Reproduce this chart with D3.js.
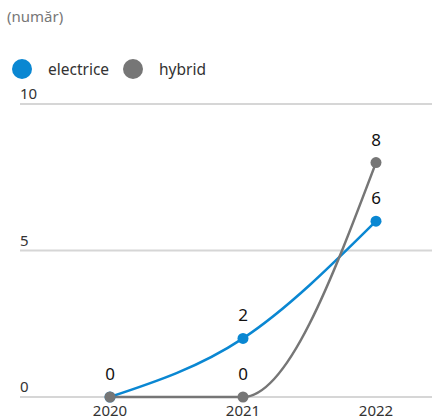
<!DOCTYPE html>
<html><head><meta charset="utf-8">
<script src="https://cdn.jsdelivr.net/npm/d3@7"></script>
<style>
body{margin:0;background:#fff;}
text{font-family:"Noto Sans","Open Sans",sans-serif;}
</style></head>
<body><svg id="c" width="432" height="419"></svg>
<script>
const years = ["2020","2021","2022"];
const electrice = [0,2,6];
const hybrid = [0,0,8];
const yTicks = [0,5,10];
const seriesNames = ["electrice","hybrid"];
const colors = ["#0a87d2","#767676"];

const svg = d3.select("#c");
const x = d3.scalePoint().domain(years).range([110,376]);
const y = d3.scaleLinear().domain([0,10]).range([397,104]);

svg.append("text").attr("x",7).attr("y",22).attr("fill","#777").attr("font-size",15).text("(număr)");

// legend
const lg = svg.append("g");
const lx = [22,133];
seriesNames.forEach((n,i)=>{
  lg.append("circle").attr("cx",lx[i]).attr("cy",69).attr("r",10).attr("fill",colors[i]);
  lg.append("text").attr("x",lx[i]+26).attr("y",75).attr("font-size",15.5).attr("fill","#333").text(n);
});

// grid
const g = svg.append("g");
yTicks.forEach(t=>{
  g.append("line").attr("x1",20).attr("x2",432).attr("y1",y(t)).attr("y2",y(t)).attr("stroke","#d6d6d6").attr("stroke-width",2);
  g.append("text").attr("x",20).attr("y",y(t)-5).attr("font-size",15).attr("fill","#333").text(t);
});
years.forEach(yr=>{
  g.append("text").attr("x",x(yr)).attr("y",416).attr("text-anchor","middle").attr("font-size",15).attr("fill","#333").text(yr);
});

const line = d3.line().x((d,i)=>x(years[i])).y(d=>y(d)).curve(d3.curveMonotoneX);
const data = [electrice, hybrid];
const cols = [colors[0], colors[1]];
data.forEach((s,k)=>{
  svg.append("path").attr("d",line(s)).attr("fill","none").attr("stroke",cols[k]).attr("stroke-width",2.5);
});
const seen = new Set();
data.forEach((s,k)=>{
  s.forEach((v,i)=>{
    svg.append("circle").attr("cx",x(years[i])).attr("cy",y(v)).attr("r",5.5).attr("fill",cols[k]);
    const key = years[i]+"|"+v;
    if(!seen.has(key)){
      seen.add(key);
      svg.append("text").attr("x",x(years[i])).attr("y",y(v)-17).attr("text-anchor","middle").attr("font-size",17).attr("fill","#111").text(v);
    }
  });
});
</script></body></html>
